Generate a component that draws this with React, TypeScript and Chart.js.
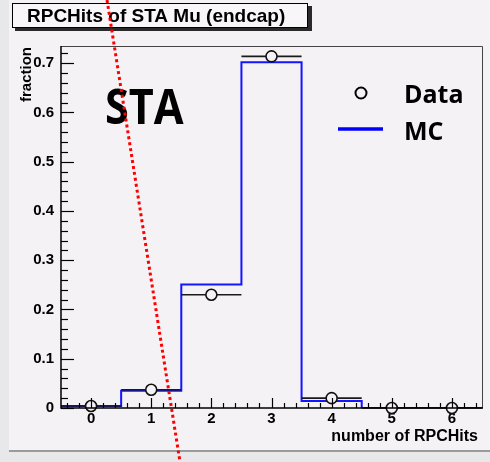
import React, { useEffect, useRef } from "react";
import { Chart, registerables } from "chart.js";

Chart.register(...registerables);

// ---- data ----
const binCenters = [0, 1, 2, 3, 4, 5, 6];
const xTickLabels = [0, 1, 2, 3, 4, 5, 6];
const yTickValues = [0, 0.1, 0.2, 0.3, 0.4, 0.5, 0.6, 0.7];
const mcValues = [0.004, 0.035, 0.251, 0.702, 0.014, 0, 0];
const dataValues = [0.004, 0.037, 0.23, 0.714, 0.02, 0, 0];
const redLinePoints = [
  { x: 0.386, y: 0.735 },
  { x: 1.337, y: 0 },
];
const titleText = "RPCHits of STA Mu (endcap)";
const xTitle = "number of RPCHits";
const yTitle = "fraction";
const overlayText = "STA";
const legendData = "Data";
const legendMC = "MC";

const BG = "#f5f2f6";
const BLUE = "#1414ff";

export default function App() {
  const ref = useRef<HTMLCanvasElement | null>(null);

  useEffect(() => {
    document.body.style.margin = "0";
    const canvas = ref.current!;
    const binWidth = 1;

    const mcSteps = binCenters.map((c, i) => ({ x: c - binWidth / 2, y: mcValues[i] }));
    mcSteps.push({ x: binCenters[binCenters.length - 1] + binWidth / 2, y: mcValues[mcValues.length - 1] });

    const dataPts = binCenters.map((c, i) => ({ x: c, y: dataValues[i] }));
    const R = 5.5;

    const deco = {
      id: "deco",
      beforeDraw(chart: any) {
        const ctx = chart.ctx;
        ctx.save();
        ctx.fillStyle = "#e8e8ea";
        ctx.fillRect(0, 0, chart.width, chart.height);
        ctx.fillStyle = BG;
        ctx.fillRect(9, 0, chart.width - 9, 450);
        ctx.fillStyle = "#9a9a9a";
        ctx.fillRect(9, 450, chart.width - 9, 2);
        ctx.restore();
      },
      afterDatasetDraw(chart: any, args: any) {
        if (args.index !== 1) return;
        const ctx = chart.ctx;
        const xs = chart.scales.x;
        const ys = chart.scales.y;
        ctx.save();
        ctx.strokeStyle = "#1a1a1a";
        ctx.lineWidth = 1.6;
        binCenters.forEach((c, i) => {
          const y = ys.getPixelForValue(dataValues[i]);
          const xl = xs.getPixelForValue(c - binWidth / 2);
          const xr = xs.getPixelForValue(c + binWidth / 2);
          const xc = xs.getPixelForValue(c);
          ctx.beginPath();
          ctx.moveTo(xl, y);
          ctx.lineTo(xc - R, y);
          ctx.moveTo(xc + R, y);
          ctx.lineTo(xr, y);
          ctx.stroke();
        });
        ctx.restore();
      },
      afterDatasetsDraw(chart: any) {
        const ctx = chart.ctx;
        const { left, right, top, bottom } = chart.chartArea;
        const xs = chart.scales.x;
        const ys = chart.scales.y;
        ctx.save();
        // frame
        ctx.lineWidth = 1;
        ctx.strokeStyle = "#444";
        ctx.beginPath();
        ctx.moveTo(left, top + 0.5);
        ctx.lineTo(right + 0.5, top + 0.5);
        ctx.lineTo(right + 0.5, bottom);
        ctx.stroke();
        ctx.strokeStyle = "#000";
        ctx.lineWidth = 1.5;
        ctx.beginPath();
        ctx.moveTo(left, top);
        ctx.lineTo(left, bottom);
        ctx.lineTo(right + 1, bottom);
        ctx.stroke();
        // y ticks
        ctx.lineWidth = 1.2;
        for (let k = 0; k <= 36; k++) {
          const v = k * 0.02;
          if (v > ys.max) break;
          const y = Math.round(ys.getPixelForValue(v)) + 0.5;
          const len = k % 5 === 0 ? 13 : 7;
          ctx.beginPath();
          ctx.moveTo(left, y);
          ctx.lineTo(left + len, y);
          ctx.stroke();
        }
        // x ticks
        for (let k = -2; k <= 32; k++) {
          const v = k * 0.2;
          if (v < xs.min || v > xs.max) continue;
          const x = Math.round(xs.getPixelForValue(v)) + 0.5;
          const len = k % 5 === 0 ? 10 : 5;
          ctx.beginPath();
          ctx.moveTo(x, bottom);
          ctx.lineTo(x, bottom - len);
          ctx.stroke();
        }
        // axis titles
        ctx.fillStyle = "#000";
        ctx.font = "bold 16px 'Liberation Sans'";
        ctx.textAlign = "right";
        ctx.textBaseline = "middle";
        ctx.fillText(xTitle, 478, 437);
        ctx.save();
        ctx.translate(27, 47);
        ctx.rotate(-Math.PI / 2);
        ctx.font = "bold 15px 'Liberation Sans'";
        ctx.textAlign = "right";
        ctx.textBaseline = "middle";
        ctx.fillText(yTitle, 0, 0);
        ctx.restore();
        // title box
        ctx.fillStyle = "#2a2a2a";
        ctx.fillRect(15, 6, 297, 25);
        ctx.fillStyle = "#f8f6f8";
        ctx.fillRect(12, 3, 296, 25);
        ctx.strokeStyle = "#000";
        ctx.lineWidth = 1;
        ctx.strokeRect(12.5, 3.5, 295, 24);
        ctx.fillStyle = "#000";
        ctx.font = "bold 19px 'Liberation Sans'";
        ctx.textAlign = "left";
        ctx.textBaseline = "middle";
        ctx.fillText(titleText, 27, 16.5);
        // STA overlay
        ctx.save();
        ctx.translate(105, 124);
        ctx.scale(0.9, 1);
        ctx.font = "bold 48px 'Open Sans'";
        ctx.textBaseline = "alphabetic";
        ctx.fillText(overlayText, 0, 0);
        ctx.restore();
        // legend
        ctx.strokeStyle = "#000";
        ctx.lineWidth = 2;
        ctx.beginPath();
        ctx.arc(361, 93, 5.5, 0, Math.PI * 2);
        ctx.stroke();
        ctx.strokeStyle = "#0000ff";
        ctx.lineWidth = 3.5;
        ctx.beginPath();
        ctx.moveTo(338, 129);
        ctx.lineTo(383, 129);
        ctx.stroke();
        ctx.font = "bold 25px 'Open Sans'";
        ctx.textBaseline = "alphabetic";
        ctx.fillText(legendData, 404, 103);
        ctx.fillText(legendMC, 404, 140);
        // red dotted line
        const p1 = { x: xs.getPixelForValue(redLinePoints[0].x), y: ys.getPixelForValue(redLinePoints[0].y) };
        const p2 = { x: xs.getPixelForValue(redLinePoints[1].x), y: ys.getPixelForValue(redLinePoints[1].y) };
        const slope = (p2.x - p1.x) / (p2.y - p1.y);
        const xAt = (y: number) => p1.x + (y - p1.y) * slope;
        ctx.strokeStyle = "#ff0000";
        ctx.lineWidth = 3;
        ctx.setLineDash([3, 3]);
        ctx.beginPath();
        ctx.moveTo(xAt(0), 0);
        ctx.lineTo(xAt(chart.height), chart.height);
        ctx.stroke();
        ctx.restore();
      },
    };

    const chart = new Chart(canvas, {
      type: "scatter",
      data: {
        datasets: [
          {
            label: legendData,
            data: dataPts,
            showLine: false,
            pointRadius: R,
            pointBorderWidth: 1.6,
            pointBorderColor: "#111",
            pointBackgroundColor: BG,
            clip: false as any,
          },
          {
            type: "line",
            label: legendMC,
            data: mcSteps,
            stepped: "before",
            borderColor: BLUE,
            borderWidth: 2,
            pointRadius: 0,
            fill: false,
          } as any,
        ],
      },
      options: {
        animation: false,
        responsive: false,
        devicePixelRatio: 1,
        layout: { padding: { top: 46, right: 8, left: 0, bottom: 0 } },
        plugins: { legend: { display: false }, tooltip: { enabled: false }, title: { display: false } },
        scales: {
          x: {
            type: "linear",
            min: -0.5,
            max: 6.5,
            grid: { display: false, drawTicks: false },
            border: { display: false },
            afterFit: (s: any) => {
              s.height = 54;
            },
            afterBuildTicks: (s: any) => {
              s.ticks = xTickLabels.map((v) => ({ value: v }));
            },
            ticks: {
              padding: 2,
              color: "#000",
              font: { family: "'Liberation Sans'", weight: "bold", size: 15 },
              callback: (v: any) => String(v),
            },
          },
          y: {
            type: "linear",
            min: 0,
            max: 0.735,
            grid: { display: false, drawTicks: false },
            border: { display: false },
            afterFit: (s: any) => {
              s.width = 61;
            },
            afterBuildTicks: (s: any) => {
              s.ticks = yTickValues.map((v) => ({ value: v }));
            },
            ticks: {
              padding: 7,
              color: "#000",
              font: { family: "'Liberation Sans'", weight: "bold", size: 15 },
              callback: (v: any) => (Number(v) === 0 ? "0" : Number(v).toFixed(1)),
            },
          },
        },
      },
      plugins: [deco],
    });
    return () => chart.destroy();
  }, []);

  return (
    <div style={{ width: 490, height: 462 }}>
      <canvas ref={ref} width={490} height={462} style={{ display: "block" }} />
    </div>
  );
}
